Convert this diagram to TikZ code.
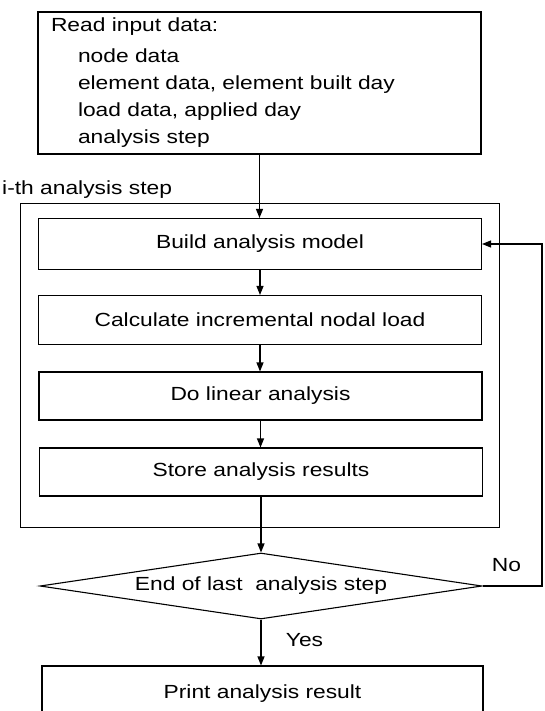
\documentclass[tikz,border=0pt]{standalone}
\usepackage{fontspec}
\setmainfont{Liberation Sans}[FakeStretch=1.2]
\usetikzlibrary{shapes.geometric,arrows.meta}
\begin{document}
\begin{tikzpicture}[x=1pt,y=-1pt,
  font=\fontsize{19}{27}\selectfont,
  box/.style={draw,line width=1.1pt,minimum width=443pt,inner sep=0pt,anchor=center},
  decision/.style={draw,line width=1.1pt,diamond,aspect=6.7,inner sep=0pt,minimum width=442pt,minimum height=66pt},
  arr/.style={-{Triangle[length=9pt,width=7pt]},line width=1.1pt},
  plain/.style={line width=1.1pt}]
\useasboundingbox (0,0) rectangle (544,711);
\clip (0,0) rectangle (544,711);
\node[box,minimum height=142pt,text width=417pt,align=left] (input) at (259.5,83)
  {Read input data:\\[4pt]
   \hspace*{27pt}node data\\
   \hspace*{27pt}element data, element built day\\
   \hspace*{27pt}load data, applied day\\
   \hspace*{27pt}analysis step};
\node[anchor=west,inner sep=0pt] (steplabel) at (2,190) {i-th analysis step};
\node[draw,line width=1pt,minimum width=479pt,minimum height=323pt,inner sep=0pt] (frame) at (259.5,365.5) {};
\node[box,minimum height=51pt] (build) at (260,244) {Build analysis model};
\node[box,minimum height=49pt] (calc) at (260,320) {Calculate incremental nodal load};
\node[box,minimum height=48pt] (linear) at (260.5,396) {Do linear analysis};
\node[box,minimum height=48pt] (store) at (261,472) {Store analysis results};
\node[decision] (dec) at (261,586) {End of last\ \ analysis step};
\node[box,minimum width=441pt,minimum height=56pt] (print) at (262.5,694) {Print analysis result};
\node[inner sep=0pt] (yes) at (304.5,640) {Yes};
\node[inner sep=0pt] (no) at (506.5,565) {No};
\coordinate (loopx) at (542,0);
\draw[arr] (input.south) -- (input.south |- build.north);
\draw[arr] (build.south) -- (build.south |- calc.north);
\draw[arr] (calc.south) -- (calc.south |- linear.north);
\draw[arr] (linear.south) -- (linear.south |- store.north);
\draw[arr] (store.south) -- (store.south |- dec.north);
\draw[arr] (dec.south) -- (dec.south |- print.north);
\draw[arr] (dec.east) -- (dec.east -| loopx) |- (build.east);
\end{tikzpicture}
\end{document}
